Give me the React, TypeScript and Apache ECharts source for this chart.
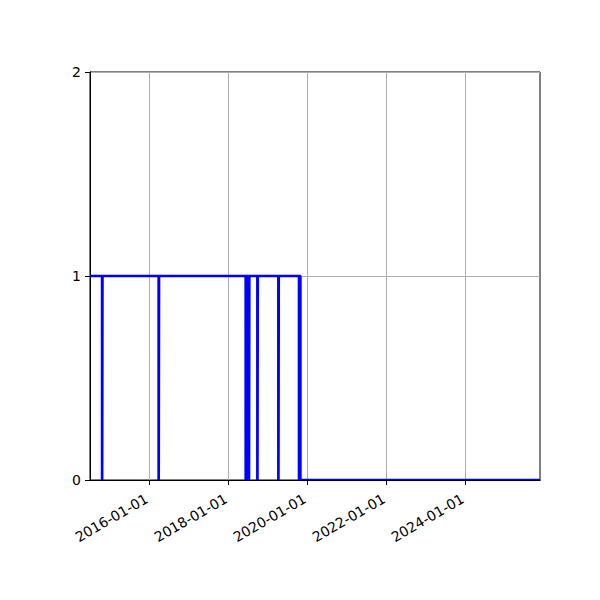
import React, { useEffect, useRef } from 'react';
import * as echarts from 'echarts';

// dates where the value changes (step holds until the next date)
const stepDates = [
  '2014-07-01', '2014-10-21', '2014-10-24', '2016-03-27', '2016-03-30',
  '2018-06-10', '2018-06-13', '2018-06-24', '2018-06-27', '2018-07-10',
  '2018-07-13', '2018-09-26', '2018-09-29', '2019-04-08', '2019-04-11',
  '2019-10-16', '2019-10-19', '2019-10-28', '2025-11-21'
];
const stepValues = [1, 0, 1, 0, 1, 0, 1, 0, 1, 0, 1, 0, 1, 0, 1, 0, 1, 0, 0];

const xTickDates = ['2016-01-01', '2018-01-01', '2020-01-01', '2022-01-01', '2024-01-01'];
const xStart = '2014-07-01';
const xEnd = '2025-11-21';
const yTicks = [0, 1, 2];

const ts = (s: string) => Date.parse(s);

const App: React.FC = () => {
  const chartRef = useRef<HTMLDivElement>(null);

  useEffect(() => {
    document.body.style.margin = '0';
    if (!chartRef.current) return;
    const chart = echarts.init(chartRef.current, undefined, { renderer: 'svg' });

    const data = stepDates.map((d, i) => [ts(d), stepValues[i]]);
    const tickValues = xTickDates.map(ts);
    const font = 'DejaVu Sans';

    chart.setOption({
      animation: false,
      grid: {
        left: 90,
        right: 60,
        top: 72,
        bottom: 120,
        show: true,
        borderColor: '#000',
        borderWidth: 1,
        backgroundColor: 'transparent'
      },
      xAxis: [{
        type: 'value',
        min: ts(xStart),
        max: ts(xEnd),
        axisLine: { show: true, onZero: false, lineStyle: { color: '#000', width: 1 } },
        axisTick: { show: true, length: 5, customValues: tickValues, lineStyle: { color: '#000' } },
        splitLine: { show: true, lineStyle: { color: '#b0b0b0', width: 1 } },
        axisLabel: {
          customValues: tickValues,
          rotate: 30,
          margin: 16,
          padding: [0, 3, 0, 0],
          color: '#000',
          fontSize: 14,
          fontFamily: font,
          formatter: (v: number) => new Date(v).toISOString().slice(0, 10)
        }
      }, {
        // spine drawn over the series, as in the original
        type: 'value',
        position: 'bottom',
        min: ts(xStart),
        max: ts(xEnd),
        z: 10,
        axisLine: { show: true, onZero: false, lineStyle: { color: '#000', width: 1 } },
        axisTick: { show: false },
        axisLabel: { show: false },
        splitLine: { show: false }
      }],
      yAxis: {
        type: 'value',
        min: yTicks[0],
        max: yTicks[yTicks.length - 1],
        interval: 1,
        axisLine: { show: true, lineStyle: { color: '#000', width: 1 } },
        axisTick: { show: true, length: 5, lineStyle: { color: '#000' } },
        splitLine: { show: true, lineStyle: { color: '#b0b0b0', width: 1 } },
        axisLabel: { color: '#000', fontSize: 14, fontFamily: font, margin: 9 }
      },
      series: [{
        type: 'line',
        step: 'end',
        data,
        showSymbol: false,
        lineStyle: { color: '#0000ff', width: 2.7 },
        itemStyle: { color: '#0000ff' }
      }]
    });

    return () => {
      chart.dispose();
    };
  }, []);

  return <div ref={chartRef} style={{ width: '600px', height: '600px' }} />;
};

export default App;
